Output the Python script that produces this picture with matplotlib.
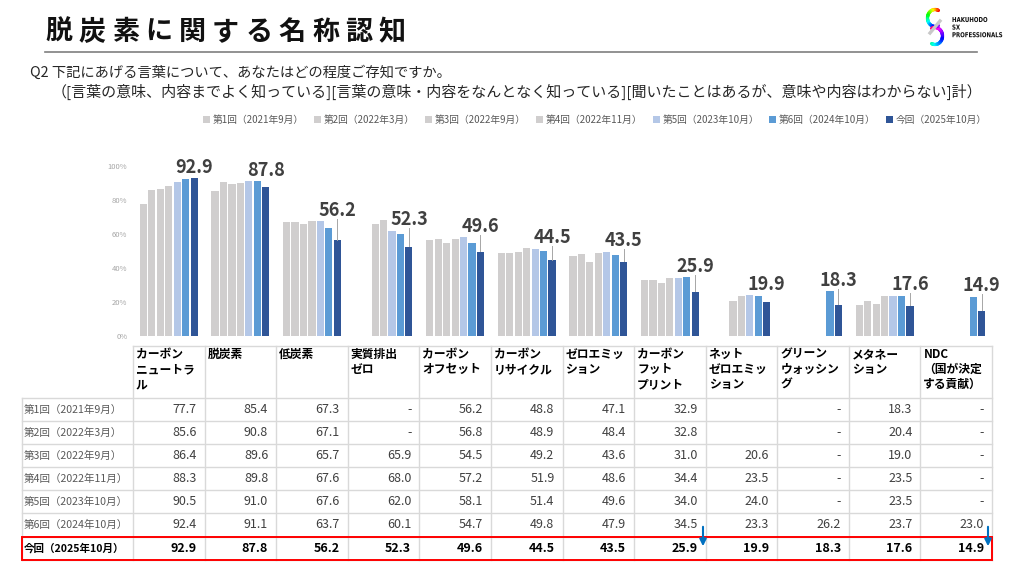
import matplotlib.pyplot as plt
import numpy as np
from matplotlib.patches import Rectangle, PathPatch
from matplotlib.textpath import TextPath
from matplotlib.font_manager import FontProperties
from matplotlib.transforms import Affine2D

plt.rcParams['font.family'] = ['Noto Sans CJK JP', 'DejaVu Sans']

# ---- data ----
headers = ['カーボン\nニュートラ\nル', '脱炭素', '低炭素', '実質排出\nゼロ',
           'カーボン\nオフセット', 'カーボン\nリサイクル', 'ゼロエミッ\nション',
           'カーボン\nフット\nプリント', 'ネット\nゼロエミッ\nション',
           'グリーン\nウォッシン\nグ', 'メタネー\nション', 'NDC\n（国が決定\nする貢献）']
waves = ['第1回（2021年9月）', '第2回（2022年3月）', '第3回（2022年9月）',
         '第4回（2022年11月）', '第5回（2023年10月）', '第6回（2024年10月）',
         '今回（2025年10月）']
nan = np.nan
# None = blank cell, nan = "-"
w1 = [77.7, 85.4, 67.3, nan, 56.2, 48.8, 47.1, 32.9, None, nan, 18.3, nan]
w2 = [85.6, 90.8, 67.1, nan, 56.8, 48.9, 48.4, 32.8, None, nan, 20.4, nan]
w3 = [86.4, 89.6, 65.7, 65.9, 54.5, 49.2, 43.6, 31.0, 20.6, nan, 19.0, nan]
w4 = [88.3, 89.8, 67.6, 68.0, 57.2, 51.9, 48.6, 34.4, 23.5, nan, 23.5, nan]
w5 = [90.5, 91.0, 67.6, 62.0, 58.1, 51.4, 49.6, 34.0, 24.0, nan, 23.5, nan]
w6 = [92.4, 91.1, 63.7, 60.1, 54.7, 49.8, 47.9, 34.5, 23.3, 26.2, 23.7, 23.0]
now = [92.9, 87.8, 56.2, 52.3, 49.6, 44.5, 43.5, 25.9, 19.9, 18.3, 17.6, 14.9]
series = [w1, w2, w3, w4, w5, w6, now]

colors = ['#d0cece', '#d0cece', '#d0cece', '#d0cece', '#b4c7e7', '#5b9bd5', '#2f5597']

W, H = 1024, 576
fig = plt.figure(figsize=(W / 100, H / 100), dpi=100)

# bar chart area (pixel box 133..992 x 166..336)
ax = fig.add_axes([133 / W, 1 - 336 / H, 859 / W, 170 / H])
ax.set_facecolor('none')
n = len(headers)
x = np.arange(n) + 0.5
slot = 0.118
handles = []
for j, s in enumerate(series):
    v = np.array(s, dtype=float)
    b = ax.bar(x + (j - 3) * slot, v, width=0.1, color=colors[j], linewidth=0)
    handles.append(b)

cur = np.array(now, dtype=float)
recent = np.nanmax(np.array([w5, w6, now], dtype=float), axis=0)
for i in range(n):
    lx = x[i] + 3 * slot
    ly = recent[i] + 6.5
    ax.text(lx, ly, f'{cur[i]:.1f}', ha='center', va='center', fontsize=13,
            fontweight='bold', color='#404040', clip_on=False)
    if ly - 5 - cur[i] > 6:
        ax.plot([lx, lx], [ly - 5, cur[i] + 0.5], color='#a6a6a6', lw=0.7,
                clip_on=False)

ax.set_xlim(0, n)
ax.set_ylim(0, 100)
ax.set_yticks(range(0, 101, 20))
ax.set_yticklabels([f'{t}%' for t in range(0, 101, 20)], fontsize=5.5, color='#a6a6a6')
ax.tick_params(axis='y', length=0, pad=4)
ax.set_xticks([])
for sp in ax.spines.values():
    sp.set_visible(False)

fig.legend(handles, waves, loc='center', bbox_to_anchor=(595 / W, 1 - 120 / H),
           ncol=7, frameon=False, fontsize=7, handlelength=0.7, handleheight=0.7,
           handletextpad=0.3, columnspacing=1.05, labelcolor='#595959')

# overlay in pixel coordinates
ov = fig.add_axes([0, 0, 1, 1])
ov.set_xlim(0, W)
ov.set_ylim(H, 0)
ov.axis('off')
ov.set_facecolor('none')

# title, spaced out
title = '脱炭素に関する名称認知'
for k, ch in enumerate(title):
    ov.text(45 + k * 33.4, 32, ch, fontsize=19.5, fontweight='bold', color='#111111',
            ha='left', va='center')
ov.plot([45, 977], [52, 52], color='#7f7f7f', lw=1.2)

ov.text(30, 73, 'Q2 下記にあげる言葉について、あなたはどの程度ご存知ですか。',
        fontsize=10.3, color='#262626', ha='left', va='center')
ov.text(52, 92, '（[言葉の意味、内容までよく知っている][言葉の意味・内容をなんとなく知っている]'
        '[聞いたことはあるが、意味や内容はわからない]計）',
        fontsize=10.8, color='#262626', ha='left', va='center')

# logo
t = np.linspace(0, 1, 40)
cmap = plt.get_cmap('hsv')
ang1 = np.pi * (0.35 + 1.3 * t)
ang2 = np.pi * (-0.65 + 1.3 * t)
for k in range(len(t) - 1):
    ov.plot(935 + 7.5 * np.cos(ang1[k:k + 2]), 18 - 8.5 * np.sin(ang1[k:k + 2]),
            color=cmap(t[k] * 0.8), lw=2.4, solid_capstyle='round')
    ov.plot(935 + 7.5 * np.cos(ang2[k:k + 2]), 36 - 8.5 * np.sin(ang2[k:k + 2]),
            color=cmap(0.45 + t[k] * 0.5), lw=2.4, solid_capstyle='round')
ov.plot([930, 940], [33, 21], color='#c8c8c8', lw=2.4)
fp = FontProperties(family='DejaVu Sans', weight='bold')
for k, s in enumerate(['HAKUHODO', 'SX', 'PROFESSIONALS']):
    tp = TextPath((0, 0), s, size=8, prop=fp)
    tr = Affine2D().scale(0.68, -0.85).translate(952, 22 + k * 7.6) + ov.transData
    ov.add_patch(PathPatch(tp, transform=tr, color='#111111', lw=0))

# table
col_l = 133
col_w = 859 / n
rows_y = [398, 421, 444, 467, 490, 513, 537, 560]
grid = '#d9d9d9'
ov.plot([col_l, col_l + n * col_w], [346, 346], color=grid, lw=1)
for i in range(n + 1):
    xx = col_l + i * col_w
    ov.plot([xx, xx], [346, 560], color=grid, lw=1)
for yy in rows_y:
    ov.plot([22, col_l + n * col_w], [yy, yy], color=grid, lw=1)
ov.plot([22, 22], [398, 560], color=grid, lw=1)

for i, h in enumerate(headers):
    ov.text(col_l + i * col_w + 3, 348, h, fontsize=8.5, fontweight='bold',
            color='#000000', ha='left', va='top', linespacing=1.2)

for r, s in enumerate(series):
    yc = (rows_y[r] + rows_y[r + 1]) / 2
    last = r == len(series) - 1
    ov.text(24, yc, waves[r], fontsize=7.6, ha='left', va='center',
            color='#000000' if last else '#595959',
            fontweight='bold' if last else 'normal')
    for i, v in enumerate(s):
        if v is None:
            continue
        txt = '-' if np.isnan(v) else f'{v:.1f}'
        ov.text(col_l + (i + 1) * col_w - 8, yc, txt, fontsize=9, ha='right', va='center',
                color='#000000' if last else '#404040',
                fontweight='bold' if last else 'normal')

ov.add_patch(Rectangle((22, 537), 970, 23, fill=False, edgecolor='#ff0000', lw=1.4,
                       zorder=5))

for ax_x in [703, 988]:
    ov.annotate('', xy=(ax_x, 549), xytext=(ax_x, 524),
                arrowprops=dict(arrowstyle='-|>,head_width=0.2,head_length=0.4',
                                color='#0070c0', lw=1.5), zorder=6)

fig.savefig('out.png', dpi=100)
